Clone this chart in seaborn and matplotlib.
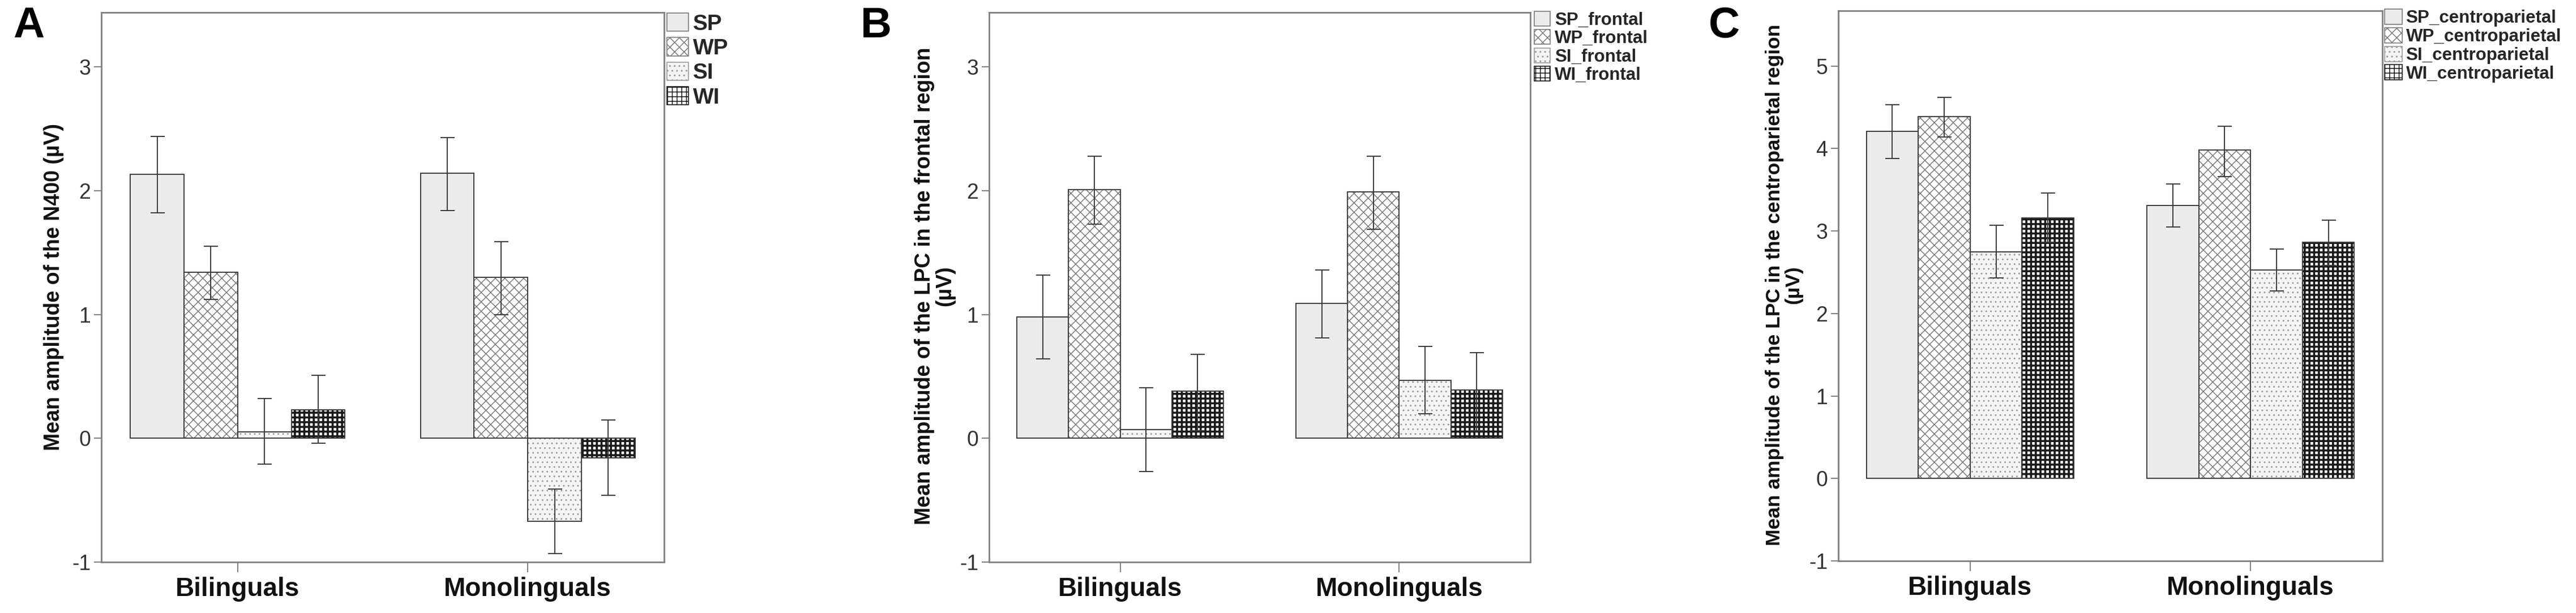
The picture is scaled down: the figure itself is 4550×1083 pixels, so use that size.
import numpy as np
import pandas as pd
import matplotlib
matplotlib.use("Agg")
import matplotlib.pyplot as plt
import seaborn as sns
from matplotlib import font_manager
from matplotlib.patches import Patch, Rectangle
from matplotlib.font_manager import FontProperties

# Bar chart data: rows = conditions, cols = groups
groups = ["Bilinguals", "Monolinguals"]

n400_labels = ["SP", "WP", "SI", "WI"]
n400_mean = [[2.13, 2.14], [1.34, 1.30], [0.05, -0.67], [0.23, -0.16]]
n400_lo = [[1.82, 1.84], [1.12, 1.00], [-0.21, -0.93], [-0.04, -0.46]]
n400_hi = [[2.44, 2.43], [1.55, 1.59], [0.32, -0.41], [0.51, 0.15]]

front_labels = ["SP_frontal", "WP_frontal", "SI_frontal", "WI_frontal"]
front_mean = [[0.98, 1.09], [2.01, 1.99], [0.07, 0.47], [0.38, 0.39]]
front_lo = [[0.64, 0.81], [1.73, 1.69], [-0.27, 0.20], [0.06, 0.06]]
front_hi = [[1.32, 1.36], [2.28, 2.28], [0.41, 0.74], [0.68, 0.69]]

cp_labels = ["SP_centroparietal", "WP_centroparietal", "SI_centroparietal", "WI_centroparietal"]
cp_mean = [[4.21, 3.31], [4.39, 3.98], [2.75, 2.53], [3.16, 2.86]]
cp_lo = [[3.88, 3.05], [4.14, 3.66], [2.43, 2.27], [2.86, 2.58]]
cp_hi = [[4.53, 3.57], [4.62, 4.27], [3.07, 2.78], [3.46, 3.13]]

# Styles per condition: SP, WP, SI, WI
face_colors = ["#ebebeb", "#ffffff", "#f4f4f4", "#ffffff"]
hatches = [None, "xx", "..", "++"]
hatch_colors = ["#8a8a8a", "#7c7c7c", "#9c9c9c", "#1a1a1a"]
hatch_widths = [1.0, 1.1, 1.0, 2.6]

sns.set_theme(style="white")
plt.rcParams["hatch.linewidth"] = 1.1
plt.rcParams["font.family"] = ["Liberation Sans", "DejaVu Sans"]

# narrow bold font for the B / C legends if it is installed
try:
    font_manager.findfont(FontProperties(family="Liberation Sans Narrow", weight="bold"),
                          fallback_to_default=False)
    narrow = True
except ValueError:
    narrow = False

W, H = 4550, 1083
fig = plt.figure(figsize=(W / 100, H / 100), dpi=100)
fig.patch.set_facecolor("white")


def px_axes(l, t, r, b):
    return fig.add_axes([l / W, 1 - b / H, (r - l) / W, (b - t) / H])


def draw_panel(ax, means, lo, hi, labels, ylim, yticks, legend_font, legend_xy, hl):
    df = pd.DataFrame({
        "group": np.tile(groups, len(labels)),
        "condition": np.repeat(labels, len(groups)),
        "value": np.ravel(means),
    })
    sns.barplot(data=df, x="group", y="value", hue="condition",
                order=groups, hue_order=labels,
                palette=dict(zip(labels, face_colors)),
                width=0.74, saturation=1, errorbar=None, legend=False, ax=ax)

    lo = np.asarray(lo)
    hi = np.asarray(hi)
    means = np.asarray(means)
    bar_conts = list(ax.containers)
    for i, cont in enumerate(bar_conts):
        for bar in cont.patches:
            j = int(round(bar.get_x() + bar.get_width() / 2))
            bar.set_facecolor(face_colors[i])
            bar.set_hatch(hatches[i])
            bar.set_edgecolor(hatch_colors[i])
            bar.set_linewidth(0)
            if hasattr(bar, "set_hatch_linewidth"):
                bar.set_hatch_linewidth(hatch_widths[i])
            ax.add_patch(Rectangle(bar.get_xy(), bar.get_width(), bar.get_height(),
                                   fill=False, edgecolor="#3c3c3c", lw=1.4, zorder=2.5))
            xc = bar.get_x() + bar.get_width() / 2
            ax.errorbar([xc], [means[i, j]],
                        yerr=[[means[i, j] - lo[i, j]], [hi[i, j] - means[i, j]]],
                        fmt="none", ecolor="#3a3a3a", elinewidth=1.4,
                        capsize=9, capthick=1.4, zorder=3)

    ax.set_xlim(-0.47, 1.47)
    ax.set_ylim(*ylim)
    ax.set_yticks(yticks)
    ax.set_yticklabels([str(t) for t in yticks])
    ax.set_xlabel("")
    ax.set_ylabel("")
    for s in ax.spines.values():
        s.set_visible(True)
        s.set_color("#7f7f7f")
        s.set_linewidth(2)
    ax.tick_params(axis="y", direction="out", length=9.5, width=1.4, color="#7f7f7f",
                   pad=4, labelsize=27, labelcolor="#333333", left=True)
    ax.tick_params(axis="x", direction="out", length=13, width=1.4, color="#7f7f7f",
                   pad=6, labelsize=33, labelcolor="#111111", bottom=True)
    for t in ax.get_xticklabels():
        t.set_fontweight("bold")

    handles = []
    for i in range(len(labels)):
        hp = Patch(facecolor=face_colors[i], hatch=hatches[i],
                   edgecolor=hatch_colors[i] if hatches[i] else "#7a7a7a", linewidth=1.2)
        if hasattr(hp, "set_hatch_linewidth"):
            hp.set_hatch_linewidth(hatch_widths[i])
        handles.append(hp)
    ax.legend(handles, labels, loc="upper left",
              bbox_to_anchor=(legend_xy[0] / W, 1 - legend_xy[1] / H),
              bbox_transform=fig.transFigure, frameon=False, borderaxespad=0,
              borderpad=0, handlelength=hl[0], handleheight=hl[1],
              handletextpad=hl[3], labelspacing=hl[2], prop=legend_font)


axA = px_axes(179, 22, 1173, 993)
axB = px_axes(1747, 22, 2703, 993)
axC = px_axes(3247, 19, 4208, 991)

font_a = FontProperties(family=["Liberation Sans", "DejaVu Sans"], weight="bold", size=28)
if narrow:
    font_bc = FontProperties(family=["Liberation Sans Narrow", "Liberation Sans"],
                             weight="bold", size=27.5)
    hl_b = (0.74, 0.74, -0.15, 0.22)
    hl_c = (0.82, 0.8, -0.15, 0.18)
else:
    font_bc = FontProperties(family=["Liberation Sans", "DejaVu Sans"], weight="bold", size=22.5)
    hl_b = (0.9, 0.9, 0.05, 0.25)
    hl_c = (1.0, 0.95, 0.05, 0.2)

draw_panel(axA, n400_mean, n400_lo, n400_hi, n400_labels, (-1, 3.44), [-1, 0, 1, 2, 3],
           font_a, (1178, 23), (0.97, 0.9, 0.15, 0.2))
draw_panel(axB, front_mean, front_lo, front_hi, front_labels, (-1, 3.44), [-1, 0, 1, 2, 3],
           font_bc, (2710, 20), hl_b)
draw_panel(axC, cp_mean, cp_lo, cp_hi, cp_labels, (-1, 5.67), [-1, 0, 1, 2, 3, 4, 5],
           font_bc, (4212, 16), hl_c)

# y axis titles
ylab_family = ["Liberation Sans", "DejaVu Sans"]
fig.text(95 / W, 1 - 507 / H, "Mean amplitude of the N400 (µV)", rotation=90,
         ha="center", va="center", fontsize=27, fontweight="bold",
         family=ylab_family, color="#111111")
fig.text(1651 / W, 1 - 505 / H, "Mean amplitude of the LPC in the frontal region\n(µV)",
         rotation=90, ha="center", va="center", multialignment="center",
         fontsize=27, fontweight="bold", family=ylab_family, color="#111111",
         linespacing=1.0)
fig.text(3151 / W, 1 - 503 / H, "Mean amplitude of the LPC in the centroparietal region\n(µV)",
         rotation=90, ha="center", va="center", multialignment="center",
         fontsize=25.5, fontweight="bold", family=ylab_family, color="#111111",
         linespacing=1.0)

# panel letters
for letter, x in [("A", 23), ("B", 1520), ("C", 3018)]:
    fig.text(x / W, 1 - 11 / H, letter, ha="left", va="top", fontsize=55,
             fontweight="bold", family=["Liberation Sans", "DejaVu Sans"], color="black")

fig.savefig("out.png", dpi=100, facecolor="white")
